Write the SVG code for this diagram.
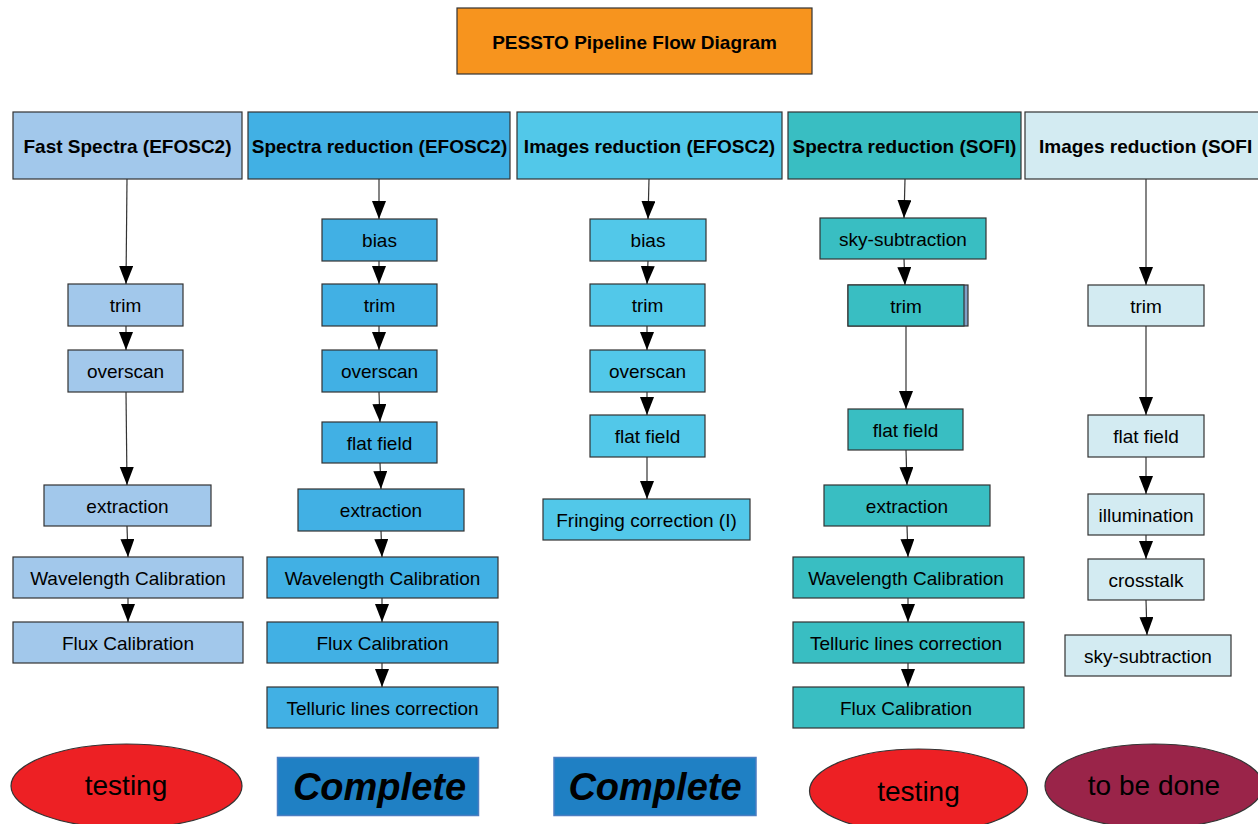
<svg xmlns="http://www.w3.org/2000/svg" width="1258" height="824" viewBox="0 0 1258 824">
<defs>
<marker id="ah" markerUnits="userSpaceOnUse" markerWidth="19" markerHeight="15" refX="18" refY="7" orient="auto">
<path d="M0,0 L18,7 L0,14 z" fill="#000"/>
</marker>
<style>
text{font-family:"Liberation Sans",Arial,sans-serif;fill:#000;text-anchor:middle}
.hd{font-size:19px;font-weight:bold}
.st{font-size:19px}
.big{font-size:28px}
.cp{font-size:38px;font-weight:bold;font-style:italic}
rect,ellipse{stroke:#333;stroke-width:1.2}
.c1{fill:#A2C8EB}
.c2{fill:#41B0E4}
.c3{fill:#52C8E9}
.c4{fill:#39BEC2}
.c5{fill:#D3EBF2}
.done{fill:#1F80C4;stroke:#4B7EC2;stroke-width:1.5}
.test{fill:#ED2024}
.todo{fill:#9A2449}
#connectors line{stroke:#333;stroke-width:1.2;marker-end:url(#ah)}
</style>
</defs>
<rect width="1258" height="824" fill="#fff" style="stroke:none"/>

<g id="title"><rect x="457" y="8" width="355" height="66" fill="#F7941E"/><text class="hd" x="634.5" y="49">PESSTO Pipeline Flow Diagram</text></g>

<g id="h1"><rect class="c1" x="13" y="112" width="229" height="67"/><text class="hd" x="127.5" y="152.5">Fast Spectra (EFOSC2)</text></g>
<g id="h2"><rect class="c2" x="248" y="112" width="262" height="67"/><text class="hd" x="379.5" y="152.5">Spectra reduction (EFOSC2)</text></g>
<g id="h3"><rect class="c3" x="517" y="112" width="265" height="67"/><text class="hd" x="649.5" y="152.5">Images reduction (EFOSC2)</text></g>
<g id="h4"><rect class="c4" x="788" y="112" width="233" height="67"/><text class="hd" x="904.5" y="152.5">Spectra reduction (SOFI)</text></g>
<g id="h5"><rect class="c5" x="1025" y="112" width="240" height="67"/><text class="hd" x="1039" y="152.5" style="text-anchor:start">Images reduction (SOFI</text></g>

<g id="c1-trim"><rect class="c1" x="68" y="284" width="115" height="42"/><text class="st" x="125.5" y="312">trim</text></g>
<g id="c1-overscan"><rect class="c1" x="68" y="350" width="115" height="42"/><text class="st" x="125.5" y="378">overscan</text></g>
<g id="c1-extraction"><rect class="c1" x="44" y="485" width="167" height="41"/><text class="st" x="127.5" y="512.5">extraction</text></g>
<g id="c1-wave"><rect class="c1" x="13" y="557" width="230" height="41"/><text class="st" x="128" y="584.5">Wavelength Calibration</text></g>
<g id="c1-flux"><rect class="c1" x="13" y="622" width="230" height="41"/><text class="st" x="128" y="649.5">Flux Calibration</text></g>

<g id="c2-bias"><rect class="c2" x="322" y="219" width="115" height="42"/><text class="st" x="379.5" y="247">bias</text></g>
<g id="c2-trim"><rect class="c2" x="322" y="284" width="115" height="42"/><text class="st" x="379.5" y="312">trim</text></g>
<g id="c2-overscan"><rect class="c2" x="322" y="350" width="115" height="42"/><text class="st" x="379.5" y="378">overscan</text></g>
<g id="c2-flat"><rect class="c2" x="322" y="422" width="115" height="41"/><text class="st" x="379.5" y="449.5">flat field</text></g>
<g id="c2-extraction"><rect class="c2" x="298" y="489" width="166" height="42"/><text class="st" x="381" y="517">extraction</text></g>
<g id="c2-wave"><rect class="c2" x="267" y="557" width="231" height="41"/><text class="st" x="382.5" y="584.5">Wavelength Calibration</text></g>
<g id="c2-flux"><rect class="c2" x="267" y="622" width="231" height="41"/><text class="st" x="382.5" y="649.5">Flux Calibration</text></g>
<g id="c2-telluric"><rect class="c2" x="267" y="687" width="231" height="41"/><text class="st" x="382.5" y="714.5">Telluric lines correction</text></g>

<g id="c3-bias"><rect class="c3" x="590" y="219" width="116" height="42"/><text class="st" x="648" y="247">bias</text></g>
<g id="c3-trim"><rect class="c3" x="590" y="284" width="115" height="42"/><text class="st" x="647.5" y="312">trim</text></g>
<g id="c3-overscan"><rect class="c3" x="590" y="350" width="115" height="42"/><text class="st" x="647.5" y="378">overscan</text></g>
<g id="c3-flat"><rect class="c3" x="590" y="415" width="115" height="42"/><text class="st" x="647.5" y="443">flat field</text></g>
<g id="c3-fringing"><rect class="c3" x="543" y="499" width="207" height="41"/><text class="st" x="646.5" y="526.5">Fringing correction (I)</text></g>

<g id="c4-sky"><rect class="c4" x="820" y="218" width="166" height="41"/><text class="st" x="903" y="245.5">sky-subtraction</text></g>
<g id="c4-trim"><rect x="848" y="285" width="120" height="41" fill="#809FC6"/><rect class="c4" x="848" y="285" width="116" height="41"/><text class="st" x="906" y="312.5">trim</text></g>
<g id="c4-flat"><rect class="c4" x="848" y="409" width="115" height="41"/><text class="st" x="905.5" y="436.5">flat field</text></g>
<g id="c4-extraction"><rect class="c4" x="824" y="485" width="166" height="41"/><text class="st" x="907" y="512.5">extraction</text></g>
<g id="c4-wave"><rect class="c4" x="793" y="557" width="231" height="41"/><text class="st" x="906" y="584.5">Wavelength Calibration</text></g>
<g id="c4-telluric"><rect class="c4" x="793" y="622" width="231" height="41"/><text class="st" x="906" y="649.5">Telluric lines correction</text></g>
<g id="c4-flux"><rect class="c4" x="793" y="687" width="231" height="41"/><text class="st" x="906" y="714.5">Flux Calibration</text></g>

<g id="c5-trim"><rect class="c5" x="1088" y="285" width="116" height="41"/><text class="st" x="1146" y="312.5">trim</text></g>
<g id="c5-flat"><rect class="c5" x="1088" y="415" width="116" height="42"/><text class="st" x="1146" y="443">flat field</text></g>
<g id="c5-illum"><rect class="c5" x="1088" y="494" width="116" height="41"/><text class="st" x="1146" y="521.5">illumination</text></g>
<g id="c5-crosstalk"><rect class="c5" x="1088" y="559" width="116" height="41"/><text class="st" x="1146" y="586.5">crosstalk</text></g>
<g id="c5-sky"><rect class="c5" x="1065" y="635" width="166" height="41"/><text class="st" x="1148" y="662.5">sky-subtraction</text></g>

<g id="connectors">
<line x1="127" y1="179" x2="126" y2="284"/>
<line x1="126" y1="326" x2="126" y2="350"/>
<line x1="126" y1="392" x2="127" y2="485"/>
<line x1="127" y1="526" x2="128" y2="557"/>
<line x1="128" y1="598" x2="128" y2="622"/>
<line x1="379" y1="179" x2="379" y2="219"/>
<line x1="379" y1="261" x2="379" y2="284"/>
<line x1="379" y1="326" x2="379" y2="350"/>
<line x1="379" y1="392" x2="380" y2="422"/>
<line x1="380" y1="463" x2="381" y2="489"/>
<line x1="381" y1="531" x2="382" y2="557"/>
<line x1="382" y1="598" x2="382" y2="622"/>
<line x1="382" y1="663" x2="382" y2="687"/>
<line x1="649" y1="179" x2="648" y2="219"/>
<line x1="648" y1="261" x2="647" y2="284"/>
<line x1="647" y1="326" x2="647" y2="350"/>
<line x1="647" y1="392" x2="647" y2="415"/>
<line x1="647" y1="457" x2="647" y2="499"/>
<line x1="905" y1="179" x2="904" y2="218"/>
<line x1="904" y1="259" x2="905" y2="285"/>
<line x1="906" y1="326" x2="906" y2="409"/>
<line x1="906" y1="450" x2="907" y2="485"/>
<line x1="907" y1="526" x2="908" y2="557"/>
<line x1="908" y1="598" x2="908" y2="622"/>
<line x1="908" y1="663" x2="908" y2="687"/>
<line x1="1146" y1="179" x2="1146" y2="285"/>
<line x1="1146" y1="326" x2="1146" y2="415"/>
<line x1="1146" y1="457" x2="1146" y2="494"/>
<line x1="1146" y1="535" x2="1146" y2="559"/>
<line x1="1146" y1="600" x2="1147" y2="635"/>
</g>

<g id="status1"><ellipse class="test" cx="126.5" cy="786" rx="115.5" ry="42"/><text class="big" x="126" y="795">testing</text></g>
<g id="status2"><rect class="done" x="277.5" y="757.5" width="201" height="58"/><text class="cp" x="379.5" y="800">Complete</text></g>
<g id="status3"><rect class="done" x="554" y="757.5" width="202" height="58"/><text class="cp" x="655" y="800">Complete</text></g>
<g id="status4"><ellipse class="test" cx="918.5" cy="791" rx="109" ry="42"/><text class="big" x="918.5" y="800.5">testing</text></g>
<g id="status5"><ellipse class="todo" cx="1154" cy="786" rx="109" ry="42"/><text class="big" x="1154" y="795">to be done</text></g>
</svg>
